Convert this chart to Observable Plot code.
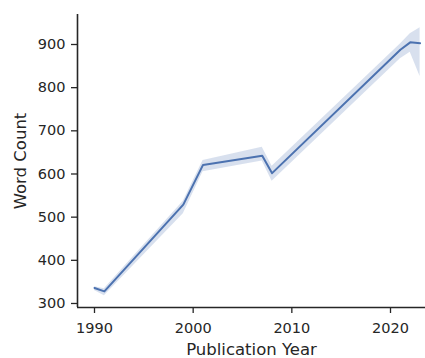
<!DOCTYPE html>
<html><head><meta charset="utf-8">
<script src="https://cdn.jsdelivr.net/npm/d3@7"></script>
<script src="https://cdn.jsdelivr.net/npm/@observablehq/plot@0.6"></script>
<style>
body{margin:0;background:#fff}
g[aria-label="x-axis label"] text, g[aria-label="y-axis label"] text {font-size:16.5px}
</style>
</head><body><div id="chart"></div>
<script>
const years = [1990, 1991, 1999, 2001, 2007, 2008, 2021, 2022, 2023];
const meanWords = [336, 328, 529, 621, 642, 602, 888, 905, 903];
const lowWords = [330, 318, 508, 605, 630, 583, 867, 882, 826];
const highWords = [339, 334, 537, 631, 662, 618, 901, 925, 939];
const xTicks = [1990, 2000, 2010, 2020];
const yTicks = [300, 400, 500, 600, 700, 800, 900];

const data = years.map((y, i) => ({year: y, mean: meanWords[i], lo: lowWords[i], hi: highWords[i]}));
const ink = "#262626";
const blue = "#4c72b0";

const chart = Plot.plot({
  width: 425, height: 358,
  marginLeft: 77, marginRight: 0, marginTop: 14, marginBottom: 51,
  style: {fontFamily: "DejaVu Sans", fontSize: "14.5px", color: ink, background: "#fff"},
  x: {domain: [1988.277, 2023.547]},
  y: {domain: [290.7, 969.5]},
  marks: [
    Plot.areaY(data, {x: "year", y1: "lo", y2: "hi", fill: blue, fillOpacity: 0.22}),
    Plot.line(data, {x: "year", y: "mean", stroke: blue, strokeWidth: 2}),
    Plot.axisX({ticks: xTicks, tickFormat: d => String(d), tickSize: 6, tickPadding: 9, stroke: ink, strokeWidth: 1.3,
      label: "Publication Year", labelArrow: "none", labelAnchor: "center", labelOffset: 47, fontSize: "14.5px"}),
    Plot.axisY({ticks: yTicks, tickSize: 6, tickPadding: 6, stroke: ink, strokeWidth: 1.3,
      label: "Word Count", labelArrow: "none", labelAnchor: "center", labelOffset: 63, fontSize: "14.5px"}),
    Plot.ruleX([1988.277], {stroke: ink, strokeWidth: 1.6}),
    Plot.ruleY([290.7], {stroke: ink, strokeWidth: 1.6})
  ]
});
document.getElementById("chart").appendChild(chart);
</script></body></html>
